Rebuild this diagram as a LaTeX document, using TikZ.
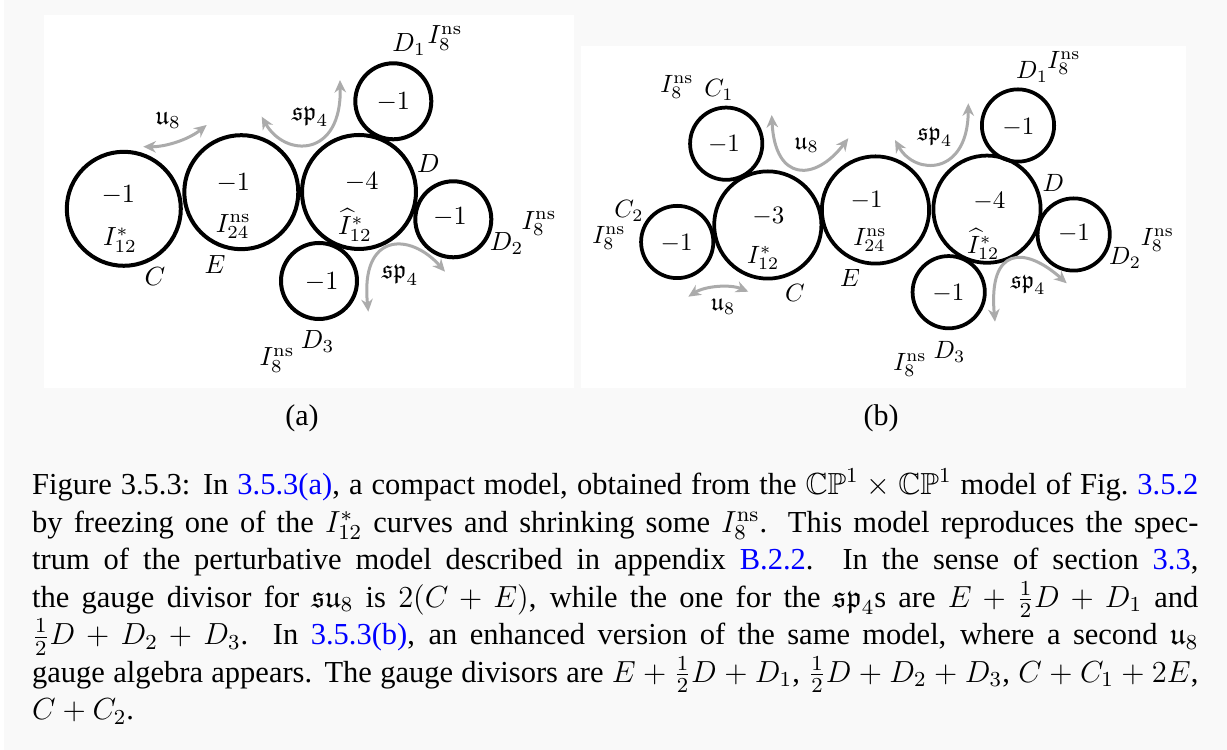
\RequirePackage{fix-cm}
\documentclass[tikz,border=0pt]{standalone}
\usepackage[no-math]{fontspec}
\setmainfont{Liberation Serif}
\usepackage{amssymb}
\usetikzlibrary{arrows.meta}
\definecolor{fondo}{HTML}{F9F9F9}
\definecolor{grisfl}{HTML}{ABABAB}
\definecolor{enlace}{HTML}{0000FF}
\tikzset{
  grande/.style={circle, draw=black, line width=1.6pt, minimum size=45.6pt, inner sep=0pt},
  chica/.style={circle, draw=black, line width=1.6pt, minimum size=30.4pt, inner sep=0pt},
  grandeb/.style={circle, draw=black, line width=1.5pt, minimum size=42.9pt, inner sep=0pt},
  chicab/.style={circle, draw=black, line width=1.5pt, minimum size=28.9pt, inner sep=0pt},
  etiq/.style={inner sep=0pt, font=\fontsize{10.5}{12.5}\selectfont},
  etiqb/.style={inner sep=0pt, font=\fontsize{10}{12}\selectfont},
  flecha/.style={{Stealth[length=5pt,width=4.6pt,inset=1.6pt]}-{Stealth[length=5pt,width=4.6pt,inset=1.6pt]},
                 line width=1.2pt, color=grisfl},
  panel/.style={fill=white, draw=none}
}
\begin{document}
\begin{tikzpicture}[x=0.4pt, y=-0.4pt]
  % fondo y paneles
  \useasboundingbox (0,0) rectangle (1227,750);
  \fill [white] (0,0) rectangle (1227,750);
  \fill [fondo] (4,0) rectangle (1227,750);
  \fill [panel] (44,15) rectangle (574,388);
  \fill [panel] (581,46) rectangle (1186,388);

  % (a)
  \node (aC) [grande] at (123.8,208.8) {};
  \node (aE) [grande] at (241.3,192.2) {};
  \node (aD) [grande] at (359,192) {};
  \node (aD1) [chica] at (393.3,101.3) {};
  \node (aD2) [chica] at (453.3,219.3) {};
  \node (aD3) [chica] at (319,281) {};
  \node (aCn) [etiq] at (118.3,195) {$-1$};
  \node (aCf) [etiq] at (120,240) {$I^*_{12}$};
  \node (aEn) [etiq] at (233.3,183.3) {$-1$};
  \node (aEf) [etiq] at (233.3,226.7) {$I^{\mathrm{ns}}_{24}$};
  \node (aDn) [etiq] at (361.7,181.7) {$-4$};
  \node (aDf) [etiq] at (355,225) {$\widehat{I}^*_{12}$};
  \node (aD1n) [etiq] at (393.3,101.7) {$-1$};
  \node (aD2n) [etiq] at (450,216.7) {$-1$};
  \node (aD3n) [etiq] at (321.7,281.7) {$-1$};
  \node (aCl) [etiq] at (155,276.7) {$C$};
  \node (aEl) [etiq] at (215,265) {$E$};
  \node (aDl) [etiq] at (428.3,163.3) {$D$};
  \node (aD1l) [etiq] at (409,45) {$D_1$};
  \node (aD1f) [etiq] at (445,38.3) {$I^{\mathrm{ns}}_8$};
  \node (aD2l) [etiq] at (506.7,243.3) {$D_2$};
  \node (aD2f) [etiq] at (539,223.3) {$I^{\mathrm{ns}}_8$};
  \node (aD3l) [etiq] at (317.5,341.7) {$D_3$};
  \node (aD3f) [etiq] at (277,360) {$I^{\mathrm{ns}}_8$};
  \node (au) [etiq] at (168.3,120) {$\mathfrak{u}_8$};
  \node (asp1) [etiq] at (310,116.7) {$\mathfrak{sp}_4$};
  \node (asp2) [etiq] at (400,275) {$\mathfrak{sp}_4$};
  \coordinate (au1) at (143.3,146.7);
  \coordinate (au2) at (206.7,125);
  \coordinate (as1) at (261.7,116.7);
  \coordinate (as2) at (340,80);
  \coordinate (as3) at (368.3,311.7);
  \coordinate (as4) at (445,271.7);
  \draw [flecha] (au1) .. controls (165,147) and (188,140) .. (au2);
  \draw [flecha] (as1) .. controls (285,158) and (342,158) .. (as2);
  \draw [flecha] (as3) .. controls (360,232) and (410,232) .. (as4);
  \node (suba) [font=\fontsize{12}{14}\selectfont] at (302,418) {(a)};

  % (b)
  \node (bC1) [chicab] at (726.2,143.7) {};
  \node (bC) [grandeb] at (767.8,225) {};
  \node (bC2) [chicab] at (677.2,242) {};
  \node (bE) [grandeb] at (875.5,210) {};
  \node (bD) [grandeb] at (987,209.2) {};
  \node (bD1) [chicab] at (1018,125.5) {};
  \node (bD2) [chicab] at (1073.7,234.5) {};
  \node (bD3) [chicab] at (948.7,292.2) {};
  \node (bC1n) [etiqb] at (724,144) {$-1$};
  \node (bC2n) [etiqb] at (676.7,243.3) {$-1$};
  \node (bCn) [etiqb] at (768.3,216.7) {$-3$};
  \node (bCf) [etiqb] at (763.3,258.3) {$I^*_{12}$};
  \node (bEn) [etiqb] at (866.7,200) {$-1$};
  \node (bEf) [etiqb] at (870,240) {$I^{\mathrm{ns}}_{24}$};
  \node (bDn) [etiqb] at (989.3,201.7) {$-4$};
  \node (bDf) [etiqb] at (983.3,244) {$\widehat{I}^*_{12}$};
  \node (bD1n) [etiqb] at (1018.3,127.3) {$-1$};
  \node (bD2n) [etiqb] at (1074,233.3) {$-1$};
  \node (bD3n) [etiqb] at (948.3,293.3) {$-1$};
  \node (bC1f) [etiqb] at (677,87) {$I^{\mathrm{ns}}_8$};
  \node (bC1l) [etiqb] at (719,90) {$C_1$};
  \node (bC2l) [etiqb] at (629,211) {$C_2$};
  \node (bC2f) [etiqb] at (609,238) {$I^{\mathrm{ns}}_8$};
  \node (bCl) [etiqb] at (795,293.3) {$C$};
  \node (bEl) [etiqb] at (850,278.3) {$E$};
  \node (bDl) [etiqb] at (1053.3,183.3) {$D$};
  \node (bD1l) [etiqb] at (1032,71.7) {$D_1$};
  \node (bD1f) [etiqb] at (1064,63.3) {$I^{\mathrm{ns}}_8$};
  \node (bD2l) [etiqb] at (1125,258.3) {$D_2$};
  \node (bD2f) [etiqb] at (1157.5,240) {$I^{\mathrm{ns}}_8$};
  \node (bD3l) [etiqb] at (949.5,351.7) {$D_3$};
  \node (bD3f) [etiqb] at (910,365) {$I^{\mathrm{ns}}_8$};
  \node (bu1) [etiqb] at (806.7,145) {$\mathfrak{u}_8$};
  \node (bu2) [etiqb] at (723.3,306.7) {$\mathfrak{u}_8$};
  \node (bsp1) [etiqb] at (935,136.7) {$\mathfrak{sp}_4$};
  \node (bsp2) [etiqb] at (1028.3,285) {$\mathfrak{sp}_4$};
  \coordinate (bu1a) at (771.7,115);
  \coordinate (bu1b) at (848.3,138.3);
  \coordinate (bu2a) at (688.3,296.7);
  \coordinate (bu2b) at (748.3,291.7);
  \coordinate (bs1) at (895,140);
  \coordinate (bs2) at (968.3,103.3);
  \coordinate (bs3) at (995,321.7);
  \coordinate (bs4) at (1066.7,283.3);
  \draw [flecha] (bu1a) .. controls (775,182) and (815,182) .. (bu1b);
  \draw [flecha] (bu2a) .. controls (705,286) and (730,284) .. (bu2b);
  \draw [flecha] (bs1) .. controls (915,176) and (968,176) .. (bs2);
  \draw [flecha] (bs3) .. controls (988,246) and (1025,246) .. (bs4);
  \node (subb) [font=\fontsize{12}{14}\selectfont] at (881,418) {(b)};

  % leyenda
  \node (leyenda) [anchor=north west, inner sep=0pt, text width=466.5pt, align=justify,
    font=\fontsize{12.2}{15}\selectfont] at (31.7,468) {Figure 3.5.3: In \textcolor{enlace}{3.5.3(a)}, a compact model, obtained from the $\mathbb{CP}^1\times\mathbb{CP}^1$ model of Fig.~\textcolor{enlace}{3.5.2}\linebreak
by freezing one of the $I^*_{12}$ curves and shrinking some $I^{\mathrm{ns}}_8$. This model reproduces the spec-\linebreak
trum of the perturbative model described in appendix \textcolor{enlace}{B.2.2}.  In the sense of section \textcolor{enlace}{3.3},\linebreak
the gauge divisor for $\mathfrak{su}_8$ is $2(C+E)$, while the one for the $\mathfrak{sp}_4$s are $E+\frac{1}{2}D+D_1$ and\linebreak
$\frac{1}{2}D+D_2+D_3$.  In \textcolor{enlace}{3.5.3(b)}, an enhanced version of the same model, where a second $\mathfrak{u}_8$\linebreak
gauge algebra appears. The gauge divisors are $E+\frac{1}{2}D+D_1$, $\frac{1}{2}D+D_2+D_3$, $C+C_1+2E$,\linebreak
$C+C_2$.};
\end{tikzpicture}
\end{document}
